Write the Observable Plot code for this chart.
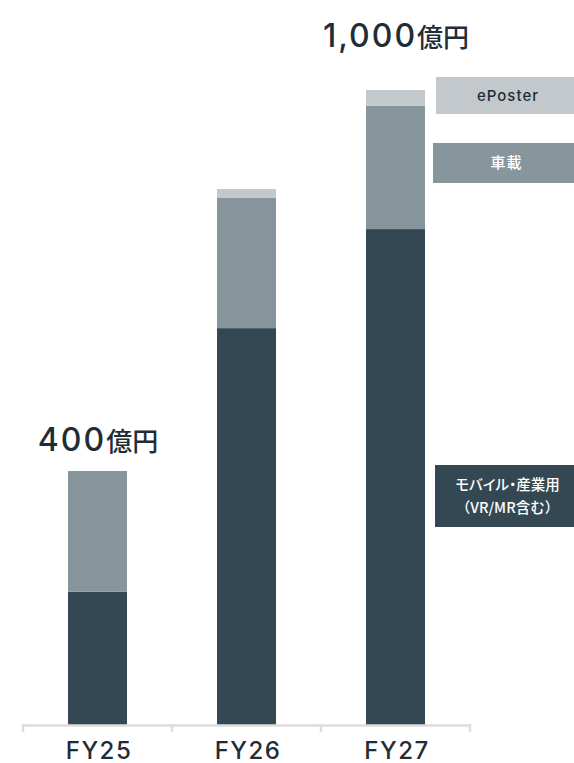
<!DOCTYPE html>
<html><head><meta charset="utf-8">
<script src="https://cdn.jsdelivr.net/npm/d3@7"></script>
<script src="https://cdn.jsdelivr.net/npm/@observablehq/plot@0.6"></script>
<style>
body{margin:0;background:#fff;font-family:Inter,"Noto Sans CJK JP",sans-serif;}
#wrap{position:relative;width:574px;height:763px;overflow:hidden;}
.lg{position:absolute;display:flex;align-items:center;justify-content:center;text-align:center;line-height:22px;font-weight:500;}
.palt{font-feature-settings:"palt";}
.cjk{font-family:"Noto Sans CJK JP",sans-serif;}
</style></head>
<body><div id="wrap"></div>
<script>
const years = ["FY25", "FY26", "FY27"];
const series = ["モバイル・産業用", "車載", "ePoster"];
const mobile = [210, 625, 781];
const auto = [190, 205, 194];
const eposter = [0, 14, 25];
const totalLabels = ["400億円", "", "1,000億円"];
const colors = ["#344854", "#87959d", "#c3c8cc"];
const textColor = "#1f2d37";

const rows = [];
years.forEach((y, i) => {
  rows.push({year: y, series: series[0], value: mobile[i]});
  rows.push({year: y, series: series[1], value: auto[i]});
  rows.push({year: y, series: series[2], value: eposter[i]});
});
const totals = years.map((y, i) => ({year: y, total: mobile[i] + auto[i] + eposter[i], label: totalLabels[i]}));

const chart = Plot.plot({
  width: 574,
  height: 763,
  marginLeft: 23,
  marginRight: 104,
  marginTop: 90,
  marginBottom: 38,
  style: {fontFamily: 'Inter,"Noto Sans CJK JP",sans-serif', background: "#fff"},
  x: {domain: years, padding: 0, axis: null},
  y: {domain: [0, 1000], axis: null},
  color: {domain: series, range: colors},
  marks: [
    Plot.barY(rows, {x: "year", y: "value", fill: "series", order: series, insetLeft: 45, insetRight: 45}),
    Plot.ruleY([0], {stroke: "#dddddd", strokeWidth: 2.5}),
    Plot.text(totals.filter(d => d.year === "FY25"), {x: "year", y: "total", text: "label", dy: -21, lineAnchor: "bottom", fontSize: 30, fill: textColor}),
    Plot.text(totals.filter(d => d.year === "FY27"), {x: "year", y: "total", text: "label", dy: -44, lineAnchor: "bottom", fontSize: 30, fill: textColor}),
    Plot.text(years, {x: d => d, y: 0, text: d => d, dy: 33, dx: 1, lineAnchor: "bottom", fontSize: 24, fontWeight: 500, fill: textColor})
  ]
});

const svg = d3.select(chart);
// total labels: wide digits + kanji unit
svg.selectAll("text").each(function() {
  const s = this.textContent;
  const m = s.match(/^([\d,]+)(億円)$/);
  if (m) {
    const t = d3.select(this);
    t.text("");
    t.append("tspan").attr("font-family", "Inter").attr("font-size", 32).attr("font-weight", 500).attr("letter-spacing", 2).text(m[1]);
    t.append("tspan").attr("font-family", "Noto Sans CJK JP").attr("font-size", 26).attr("font-weight", 500).style("font-feature-settings", '"palt"').text(m[2]);
  } else if (/^FY/.test(s)) {
    d3.select(this).attr("letter-spacing", 1.5);
  }
});

// band edge ticks using the library's x scale
const xs = chart.scale("x");
const ys = chart.scale("y");
const base = ys.apply(0);
const edges = years.map(y => xs.apply(y)).concat([xs.apply(years[years.length - 1]) + xs.bandwidth]);
svg.append("g").selectAll("line").data(edges).join("line")
  .attr("x1", d => d).attr("x2", d => d)
  .attr("y1", base - 1).attr("y2", base + 7)
  .attr("stroke", "#dddddd").attr("stroke-width", 2.5);

const wrap = document.getElementById("wrap");
wrap.appendChild(chart);

const legends = [
  {text: "ePoster", bg: colors[2], fg: textColor, left: 436, top: 77, h: 37, fs: 15, ls: 1},
  {text: "車載", bg: colors[1], fg: "#ffffff", left: 433, top: 143, h: 40, fs: 15, ls: 1},
  {text: '<span class="palt cjk">モバイル・産業用</span><br><span class="cjk">（VR/MR含む）</span>', bg: colors[0], fg: "#ffffff", left: 435, top: 465, h: 62, fs: 14.5, ls: 0}
];
legends.forEach(l => {
  const d = document.createElement("div");
  d.className = "lg";
  d.style.left = l.left + "px";
  d.style.top = l.top + "px";
  d.style.width = (580 - l.left) + "px";
  d.style.height = l.h + "px";
  d.style.background = l.bg;
  d.style.color = l.fg;
  d.style.fontSize = l.fs + "px";
  d.style.letterSpacing = l.ls + "px";
  const inner = document.createElement("div");
  inner.innerHTML = l.text;
  d.appendChild(inner);
  wrap.appendChild(d);
});
</script></body></html>
